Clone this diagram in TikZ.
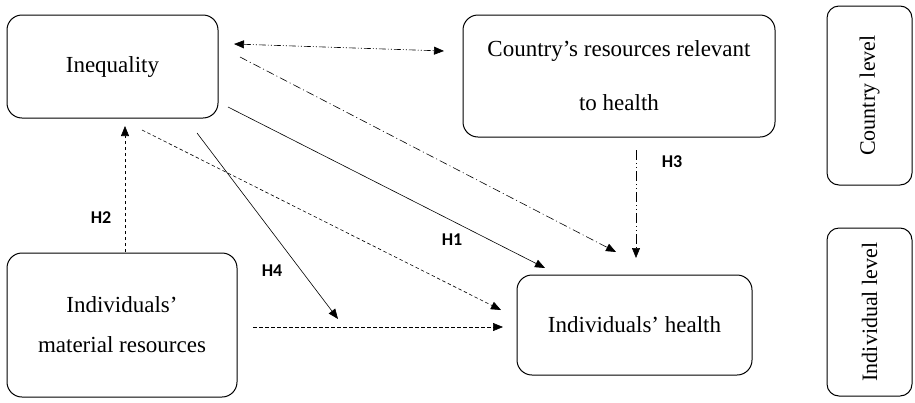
\documentclass[tikz,border=0pt]{standalone}
\usepackage{fontspec}
\setmainfont{Liberation Serif}
\newfontfamily\lab{Carlito}
\usetikzlibrary{arrows.meta}
\tikzset{
  box/.style={draw, line width=1pt, rounded corners=15pt, inner sep=0pt, align=center, font=\fontsize{23}{27}\selectfont},
  lev/.style={box, rounded corners=12pt, font=\fontsize{22}{26}\selectfont},
  conn/.style={line width=0.6pt, -{Triangle[length=10pt,width=8pt]}},
  hlab/.style={font=\lab\bfseries\fontsize{18}{20}\selectfont},
  ddd/.style={dash pattern=on 7pt off 2pt on 1pt off 2pt on 1pt off 2pt},
  dd/.style={dash pattern=on 8pt off 3pt on 1pt off 3pt},
  dsh/.style={dash pattern=on 3.5pt off 2.5pt},
}
\begin{document}
\begin{tikzpicture}[x=1pt,y=-1pt]
\useasboundingbox (0,0) rectangle (915,402);
% boxes
\node[box, minimum width=211pt, minimum height=103pt] (ineq) at (112.5,66.5) {Inequality};
\node[box, minimum width=312pt, minimum height=122pt] (cres) at (619,76) {Country’s resources relevant\\[27pt]to health};
\node[box, minimum width=230pt, minimum height=144pt] (ires) at (122,325) {Individuals’\\[13pt]material resources};
\node[box, minimum width=235pt, minimum height=100pt] (ihealth) at (634.5,325) {Individuals’ health};
\node[lev, minimum width=85pt, minimum height=179pt] (clev) at (869.5,95.5) {\rotatebox{90}{Country level}};
\node[lev, minimum width=85pt, minimum height=168pt] (ilev) at (869.5,312) {\rotatebox{90}{Individual level}};
% connector end points
\coordinate (a1) at (234,44);
\coordinate (a2) at (444,51);
\coordinate (b1) at (240,57);
\coordinate (b2) at (616,252);
\coordinate (c1) at (228,107);
\coordinate (c2) at (545,268);
\coordinate (d1) at (142,130);
\coordinate (d2) at (501,310);
\coordinate (e1) at (197,133);
\coordinate (e2) at (338,319);
\coordinate (f1) at (125,252);
\coordinate (f2) at (125,126);
\coordinate (g1) at (253,327);
\coordinate (g2) at (503,327);
\coordinate (h1) at (636,150);
\coordinate (h2) at (636,258);
% connectors
\draw[conn, ddd, {Triangle[length=10pt,width=8pt]}-{Triangle[length=10pt,width=8pt]}] (a1) -- (a2);
\draw[conn, dd] (b1) -- (b2);
\draw[conn] (c1) -- (c2);
\draw[conn, dsh] (d1) -- (d2);
\draw[conn] (e1) -- (e2);
\draw[conn, dsh] (f1) -- (f2);
\draw[conn, dsh] (g1) -- (g2);
\draw[conn, dash pattern=on 10pt off 3pt on 1pt off 3pt on 1pt off 3pt] (h1) -- (h2);
% labels
\node[hlab] (lh1) at (452,240) {H1};
\node[hlab] (lh2) at (101,218) {H2};
\node[hlab] (lh3) at (672,162) {H3};
\node[hlab] (lh4) at (272,271) {H4};
\end{tikzpicture}
\end{document}
